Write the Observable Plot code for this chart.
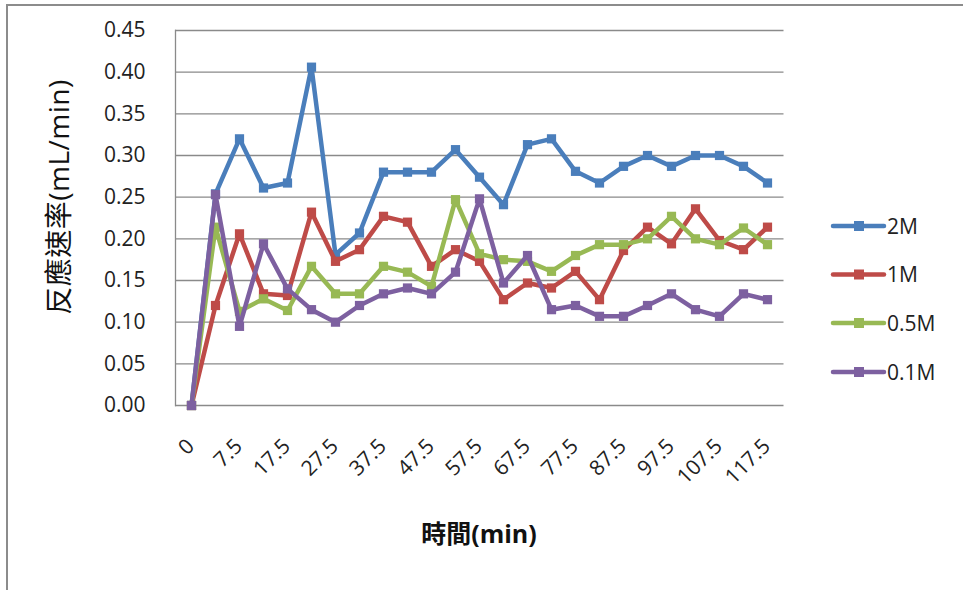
<!DOCTYPE html>
<html><head><meta charset="utf-8">
<script src="https://cdn.jsdelivr.net/npm/d3@7"></script>
<script src="https://cdn.jsdelivr.net/npm/@observablehq/plot@0.6"></script>
<style>
html,body{margin:0;padding:0;background:#fff;}
#chart{position:relative;width:963px;height:590px;overflow:hidden;}
#border{position:absolute;left:6px;top:4px;width:960px;height:600px;border-top:2px solid #8c8c8c;border-left:2px solid #8c8c8c;pointer-events:none;z-index:2;}
</style></head><body><div id="chart"><div id="border"></div></div>
<script>
const categories = ["0","2.5","7.5","12.5","17.5","22.5","27.5","32.5","37.5","42.5","47.5","52.5","57.5","62.5","67.5","72.5","77.5","82.5","87.5","92.5","97.5","102.5","107.5","112.5","117.5"];
const tickLabels = ["0","7.5","17.5","27.5","37.5","47.5","57.5","67.5","77.5","87.5","97.5","107.5","117.5"];
const yTicks = [0,0.05,0.10,0.15,0.20,0.25,0.30,0.35,0.40,0.45];
const seriesNames = ["2M","1M","0.5M","0.1M"];
const colors = ["#4A7EBB","#BE4B48","#98B954","#7D60A0"];
const s2M  = [0,0.254,0.320,0.261,0.267,0.406,0.181,0.207,0.280,0.280,0.280,0.307,0.274,0.241,0.313,0.320,0.281,0.267,0.287,0.300,0.287,0.300,0.300,0.287,0.267];
const s1M  = [0,0.120,0.206,0.134,0.132,0.232,0.173,0.187,0.227,0.220,0.167,0.187,0.173,0.127,0.147,0.141,0.161,0.127,0.186,0.214,0.194,0.236,0.198,0.187,0.214];
const s05M = [0,0.214,0.113,0.128,0.114,0.167,0.134,0.134,0.167,0.160,0.143,0.247,0.182,0.175,0.173,0.161,0.180,0.193,0.193,0.200,0.227,0.200,0.193,0.213,0.193];
const s01M = [0,0.253,0.095,0.194,0.140,0.115,0.100,0.120,0.134,0.141,0.134,0.160,0.248,0.147,0.180,0.115,0.120,0.107,0.107,0.120,0.134,0.115,0.107,0.134,0.127];
const seriesValues = [s2M, s1M, s05M, s01M];

const latin = "'Open Sans', 'Noto Sans CJK TC', sans-serif";

const seriesMarks = [];
seriesNames.forEach((name, si) => {
  const data = seriesValues[si].map((v, i) => ({series: name, time: categories[i], value: v}));
  seriesMarks.push(Plot.line(data, {x: "time", y: "value", stroke: colors[si], strokeWidth: 4.5}));
  seriesMarks.push(Plot.dot(data, {x: "time", y: "value", symbol: "square", r: 5.2, fill: colors[si], stroke: "none"}));
});

const plot = Plot.plot({
  width: 963, height: 590,
  marginLeft: 175, marginRight: 179.5, marginTop: 30, marginBottom: 185,
  style: {fontFamily: latin, background: "transparent", color: "#222"},
  x: {type: "point", domain: categories, padding: 0.5, axis: null},
  y: {domain: [0, 0.45], axis: null},
  marks: [
    Plot.ruleY(yTicks, {stroke: "#8a8a8a", strokeWidth: 1.3}),
    Plot.frame({anchor: "left", stroke: "#8a8a8a", strokeWidth: 1.3}),
    Plot.axisY(yTicks, {anchor: "left", label: null, tickSize: 0, tickPadding: 30, tickFormat: d => d.toFixed(2), fontSize: 21, fill: "#222"}),
    Plot.text(tickLabels, {x: d => d, y: () => 0, rotate: -45, textAnchor: "end", lineAnchor: "bottom", dx: 4, dy: 42, fontSize: 21, fill: "#222"}),
    ...seriesMarks
  ]
});

document.getElementById("chart").appendChild(plot);
const svg = d3.select(plot);
svg.style("position", "absolute").style("left", "0px").style("top", "0px");

svg.append("text")
  .attr("transform", "translate(69,197) rotate(-90)")
  .attr("text-anchor", "middle")
  .style("font-family", latin).style("font-size", "28px").style("letter-spacing", "0.5px").style("fill", "#111")
  .text("反應速率(mL/min)");

svg.append("text")
  .attr("x", 479).attr("y", 543)
  .attr("text-anchor", "middle")
  .style("font-family", latin).style("font-size", "25px").style("font-weight", "bold").style("fill", "#111")
  .text("時間(min)");

const leg = svg.append("g");
const legY = [226, 274.5, 323, 372];
seriesNames.forEach((name, i) => {
  const g = leg.append("g").attr("transform", `translate(0,${legY[i]})`);
  g.append("line").attr("x1", 833).attr("x2", 884).attr("y1", 0).attr("y2", 0)
    .attr("stroke", colors[i]).attr("stroke-width", 4.5).attr("stroke-linecap", "round");
  g.append("rect").attr("x", 854).attr("y", -5).attr("width", 10).attr("height", 10).attr("fill", colors[i]);
  g.append("text").attr("x", 887).attr("y", 0).attr("dy", "0.36em").attr("text-anchor", "start")
    .style("font-family", latin).style("font-size", "21px").style("fill", "#222")
    .text(name);
});
</script></body></html>
